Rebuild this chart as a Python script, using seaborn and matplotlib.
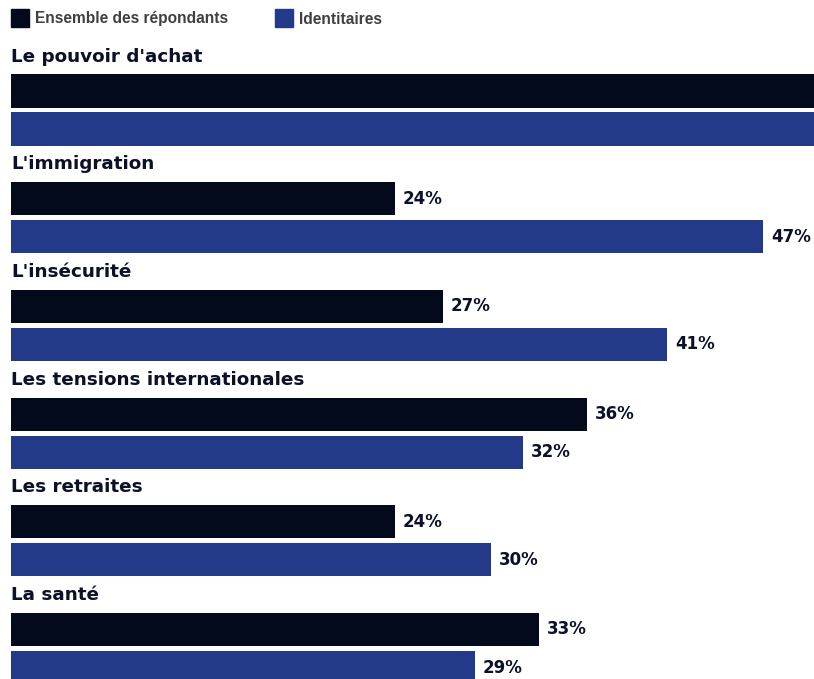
import matplotlib
matplotlib.use("Agg")
import matplotlib.pyplot as plt
import seaborn as sns
import pandas as pd
from matplotlib.patches import Rectangle

categories = ["Le pouvoir d'achat", "L'immigration", "L'insécurité",
              "Les tensions internationales", "Les retraites", "La santé"]
series = ["Ensemble des répondants", "Identitaires"]
ensemble = [55, 24, 27, 36, 24, 33]
identitaires = [52, 47, 41, 32, 30, 29]
colors = ["#020a1c", "#233a89"]

rows = []
for c, a, b in zip(categories, ensemble, identitaires):
    rows.append({"cat": c, "serie": series[0], "val": a})
    rows.append({"cat": c, "serie": series[1], "val": b})
df = pd.DataFrame(rows)

sns.set_theme(style="white")
plt.rcParams["font.family"] = ["DejaVu Sans"]

W, H = 814, 679
fig = plt.figure(figsize=(W / 100, H / 100), dpi=100)
ax = fig.add_axes([11 / W, 0, (W - 11) / W, 1])

sns.barplot(data=df, y="cat", x="val", hue="serie", order=categories,
            hue_order=series, palette=colors, orient="h", width=0.706,
            gap=0.13, dodge=True, legend=False, ax=ax, saturation=1,
            linewidth=0)

ax.set_xlim(0, (W - 11) / 16.0)
ax.set_ylim((H - 110) / 107.7, -110 / 107.7)
ax.axis("off")

for cont in ax.containers:
    ax.bar_label(cont, labels=[f"{int(round(b.get_width()))}%" for b in cont],
                 padding=5.8, fontsize=12, fontweight="bold", color="#0b1126",
                 family=["DejaVu Sans"])

for i, c in enumerate(categories):
    ax.text(0, i - 0.495, c, ha="left", va="center", fontsize=13.2,
            fontweight="bold", color="#0b1126", family=["DejaVu Sans"])

# legend
leg_items = [(11, series[0], colors[0]), (275, series[1], colors[1])]
for x, lab, col in leg_items:
    fig.patches.append(Rectangle((x / W, 1 - 27 / H), 18 / W, 18 / H,
                                 transform=fig.transFigure, color=col))
    fig.text((x + 24) / W, 1 - 19 / H, lab, ha="left", va="center",
             fontsize=11.2, fontweight="bold", color="#404040",
             family=["Liberation Sans", "DejaVu Sans"])

fig.savefig("out.png", dpi=100)
